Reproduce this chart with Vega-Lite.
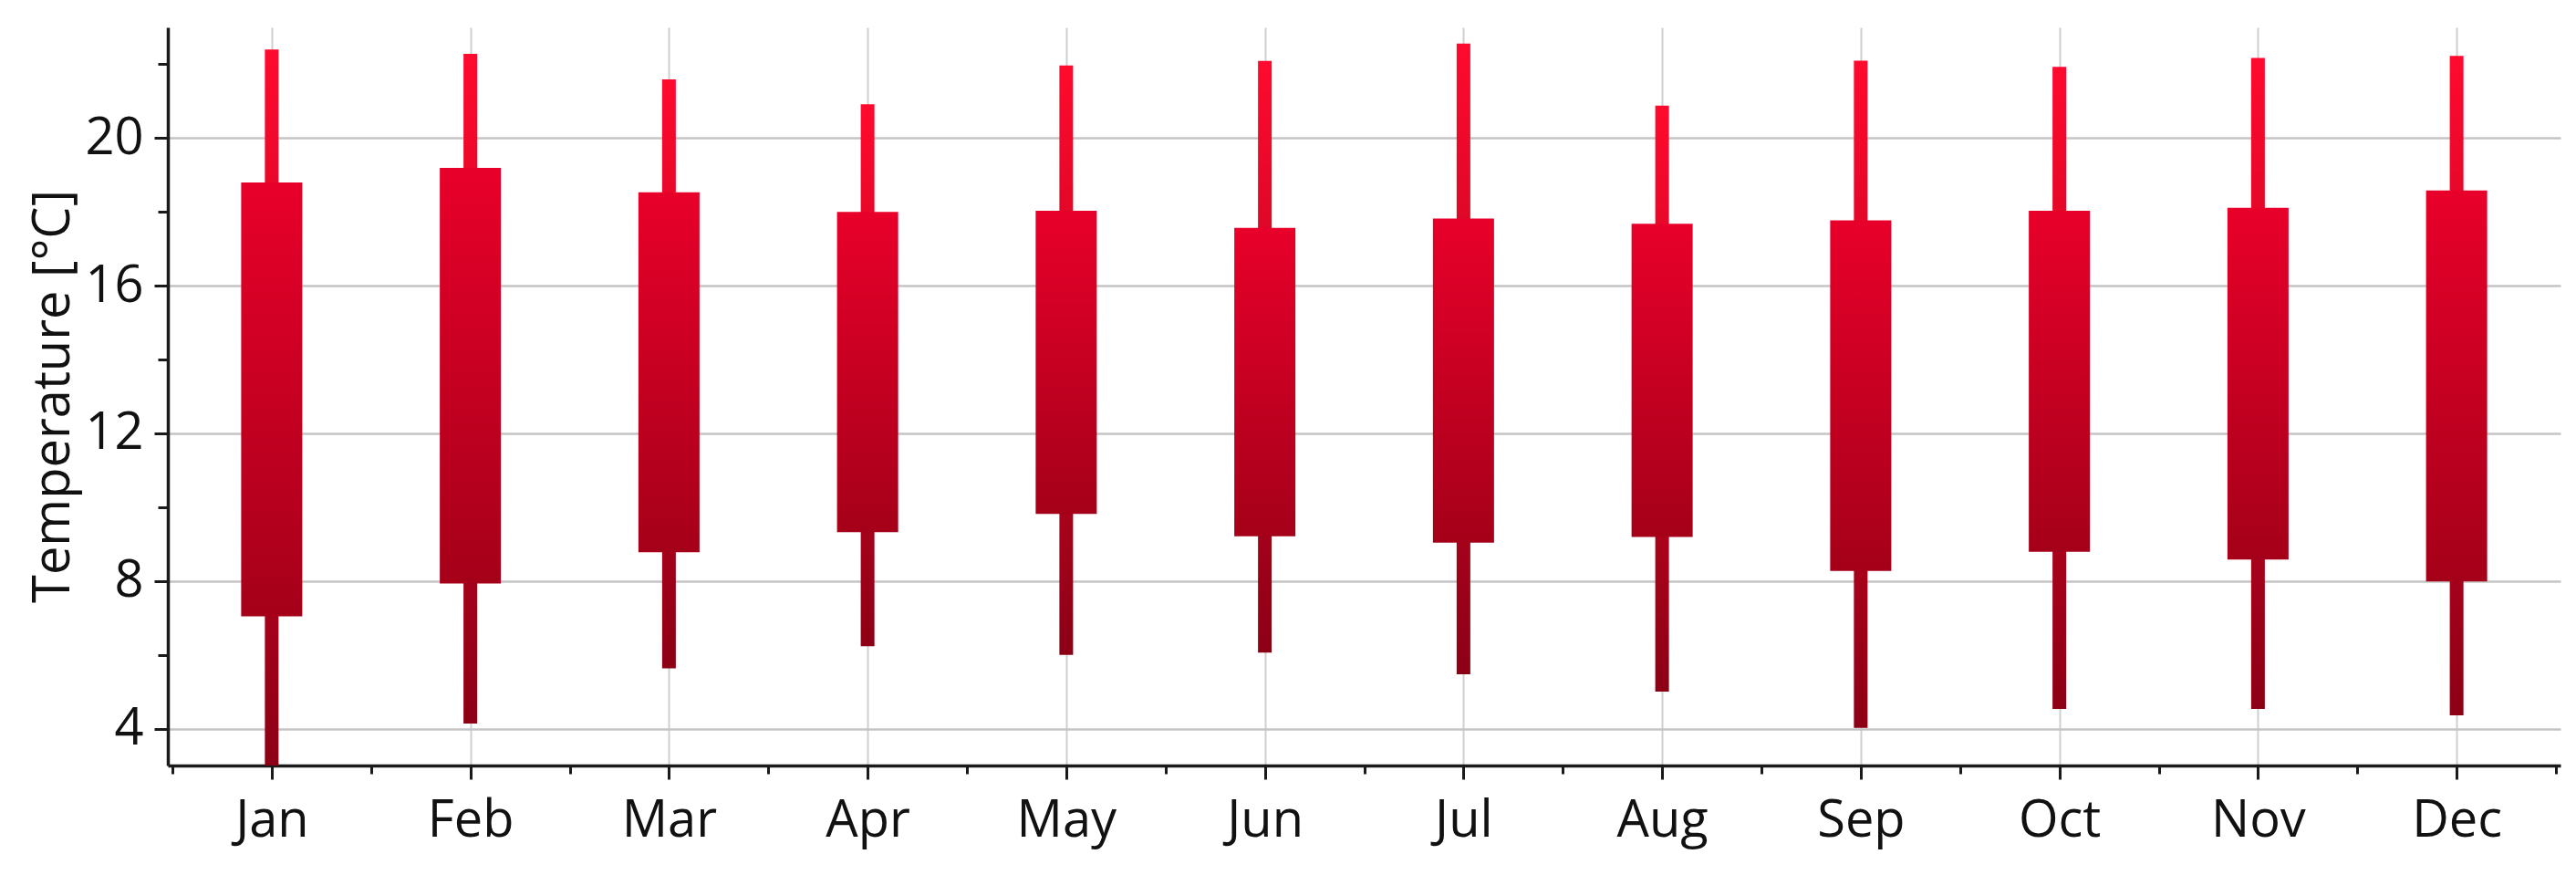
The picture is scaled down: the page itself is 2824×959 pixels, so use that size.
{
  "$schema": "https://vega.github.io/schema/vega-lite/v6.json",
  "autosize": {"type": "none"},
  "width": 2623,
  "height": 809,
  "padding": {"left": 184, "top": 30, "right": 17, "bottom": 120},
  "background": "white",
  "config": {
    "view": {"stroke": null},
    "font": "Open Sans"
  },
  "data": {
    "values": [
      {"m": 1, "month": "Jan", "min": 3.0, "q1": 7.04, "q3": 18.8, "max": 22.4},
      {"m": 2, "month": "Feb", "min": 4.14, "q1": 7.93, "q3": 19.19, "max": 22.28},
      {"m": 3, "month": "Mar", "min": 5.63, "q1": 8.78, "q3": 18.53, "max": 21.59},
      {"m": 4, "month": "Apr", "min": 6.23, "q1": 9.32, "q3": 18.0, "max": 20.92},
      {"m": 5, "month": "May", "min": 6.0, "q1": 9.82, "q3": 18.03, "max": 21.97},
      {"m": 6, "month": "Jun", "min": 6.06, "q1": 9.21, "q3": 17.57, "max": 22.09},
      {"m": 7, "month": "Jul", "min": 5.47, "q1": 9.04, "q3": 17.82, "max": 22.56},
      {"m": 8, "month": "Aug", "min": 5.0, "q1": 9.19, "q3": 17.68, "max": 20.88},
      {"m": 9, "month": "Sep", "min": 4.02, "q1": 8.27, "q3": 17.77, "max": 22.1},
      {"m": 10, "month": "Oct", "min": 4.53, "q1": 8.79, "q3": 18.03, "max": 21.93},
      {"m": 11, "month": "Nov", "min": 4.53, "q1": 8.58, "q3": 18.11, "max": 22.17},
      {"m": 12, "month": "Dec", "min": 4.36, "q1": 7.99, "q3": 18.58, "max": 22.23}
    ]
  },
  "encoding": {
    "x": {
      "field": "m",
      "type": "quantitative",
      "scale": {"domain": [0.5, 12.5], "nice": false, "zero": false},
      "axis": {
        "title": null,
        "values": [0.5, 1, 1.5, 2, 2.5, 3, 3.5, 4, 4.5, 5, 5.5, 6, 6.5, 7, 7.5, 8, 8.5, 9, 9.5, 10, 10.5, 11, 11.5, 12, 12.5],
        "labelExpr": "datum.value % 1 === 0 ? ['Jan','Feb','Mar','Apr','May','Jun','Jul','Aug','Sep','Oct','Nov','Dec'][datum.value - 1] : ''",
        "labelOverlap": false,
        "labelFlush": false,
        "labelFont": "Open Sans",
        "labelFontSize": 56,
        "labelColor": "#111111",
        "labelPadding": 18,
        "domainColor": "#1a1a1a",
        "domainWidth": 3.5,
        "tickColor": "#1a1a1a",
        "tickWidth": 3,
        "tickSize": {"condition": {"test": "datum.value % 1 === 0", "value": 15}, "value": 9},
        "grid": true,
        "gridColor": "#cfcfcf",
        "gridWidth": 2,
        "gridOpacity": {"condition": {"test": "datum.value % 1 === 0 && datum.value > 0.6", "value": 1}, "value": 0}
      }
    }
  },
  "layer": [
    {
      "mark": {
        "type": "bar",
        "width": 15,
        "clip": true,
        "color": {
          "gradient": "linear", "x1": 0, "y1": 0, "x2": 0, "y2": 1,
          "stops": [{"offset": 0, "color": "#ff0a2e"}, {"offset": 1, "color": "#8c0015"}]
        }
      },
      "encoding": {
        "y": {
          "field": "max",
          "type": "quantitative",
          "scale": {"domain": [3, 23], "nice": false, "zero": false},
          "axis": {
            "title": "Temperature [°C]",
            "titleFont": "Open Sans",
            "titleFontSize": 56,
            "titleFontWeight": "normal",
            "titleColor": "#111111",
            "titleAngle": -90,
            "titleX": -97,
            "titleY": 404,
            "titleAlign": "center",
            "titleBaseline": "bottom",
            "values": [4, 6, 8, 10, 12, 14, 16, 18, 20, 22],
            "labelExpr": "datum.value % 4 === 0 ? datum.label : ''",
            "labelOverlap": false,
            "labelFlush": false,
            "labelFont": "Open Sans",
            "labelFontSize": 56,
            "labelColor": "#111111",
            "labelPadding": 12,
            "domainColor": "#1a1a1a",
            "domainWidth": 3.5,
            "tickColor": "#1a1a1a",
            "tickWidth": 3,
            "tickSize": {"condition": {"test": "datum.value % 4 === 0", "value": 15}, "value": 11},
            "grid": true,
            "gridColor": "#c4c4c4",
            "gridWidth": 2.5,
            "gridOpacity": {"condition": {"test": "datum.value % 4 === 0", "value": 1}, "value": 0}
          }
        },
        "y2": {"field": "min"}
      }
    },
    {
      "mark": {
        "type": "bar",
        "width": 67,
        "clip": true,
        "color": {
          "gradient": "linear", "x1": 0, "y1": 0, "x2": 0, "y2": 1,
          "stops": [{"offset": 0, "color": "#e8002a"}, {"offset": 1, "color": "#a50019"}]
        }
      },
      "encoding": {
        "y": {"field": "q3", "type": "quantitative"},
        "y2": {"field": "q1"}
      }
    }
  ]
}
